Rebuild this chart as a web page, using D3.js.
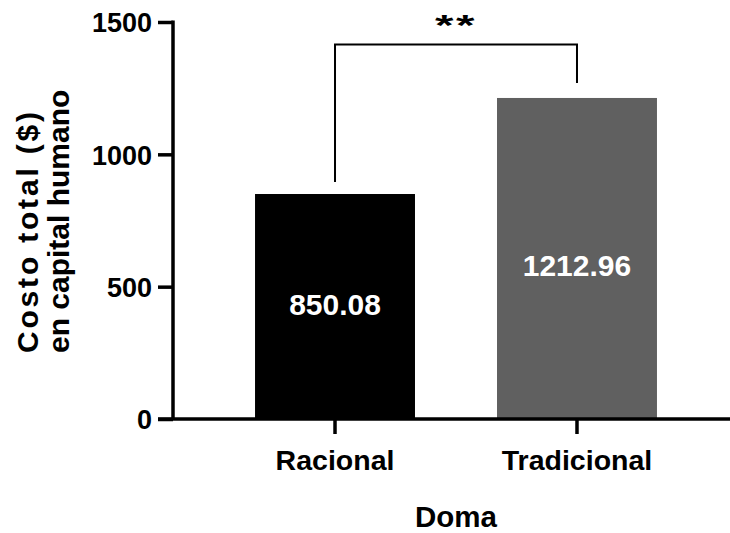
<!DOCTYPE html>
<html>
<head>
<meta charset="utf-8">
<script src="https://cdn.jsdelivr.net/npm/d3@7"></script>
<style>
  html, body { margin: 0; padding: 0; background: #fff; }
  svg { display: block; font-family: "Liberation Sans", Arial, sans-serif; font-weight: bold; }
</style>
</head>
<body>
<svg id="chart" width="730" height="533"></svg>
<script>
// Human-capital cost by taming method
const categories = ["Racional", "Tradicional"];
const values = [850.08, 1212.96];
const barColors = ["#000000", "#606060"];
const valueLabels = ["850.08", "1212.96"];
const yTicks = [0, 500, 1000, 1500];
const yTitleLines = ["Costo total ($)", "en capital humano"];
const xTitle = "Doma";
const significance = "**";
const bracketTop = 1415; // bracket height in data units

const W = 730, H = 533;
const axisX = 173;
const labelFrac = [0.51, 0.48]; // where each value label sits within its bar

const svg = d3.select("#chart");

const y = d3.scaleLinear().domain([0, 1500]).range([419, 22]);
const x = d3.scaleBand()
  .domain(categories)
  .range([axisX, 739])
  .paddingInner(0.339)
  .paddingOuter(0.339);

// bars
svg.append("g").selectAll("rect")
  .data(categories)
  .join("rect")
  .attr("x", d => x(d))
  .attr("y", (d, i) => y(values[i]))
  .attr("width", x.bandwidth())
  .attr("height", (d, i) => y(0) - y(values[i]))
  .attr("fill", (d, i) => barColors[i]);

// value labels inside bars
svg.append("g").selectAll("text")
  .data(categories)
  .join("text")
  .attr("x", d => x(d) + x.bandwidth() / 2)
  .attr("y", (d, i) => y(values[i] * labelFrac[i]) + 11)
  .attr("text-anchor", "middle")
  .attr("fill", "#fff")
  .attr("font-size", 30)
  .text((d, i) => valueLabels[i]);

// y axis
const yAxis = svg.append("g")
  .attr("transform", `translate(${axisX},0)`)
  .call(d3.axisLeft(y).tickValues(yTicks).tickSize(15).tickSizeOuter(0).tickPadding(6).tickFormat(d3.format("d")));
yAxis.select(".domain").attr("stroke-width", 3.5).attr("d", `M0,${y(1500) - 1.5}V${y(0)}`);
yAxis.selectAll(".tick line").attr("stroke-width", 3.5);
yAxis.selectAll(".tick text")
  .attr("font-size", 27).attr("font-family", "Liberation Sans, Arial, sans-serif")
  .attr("font-weight", "bold").attr("fill", "#000").attr("dy", "0.36em");

// x axis (baseline runs to the right edge)
const xAxis = svg.append("g")
  .attr("transform", `translate(0,${y(0)})`)
  .call(d3.axisBottom(x).tickSize(15).tickSizeOuter(0).tickPadding(16));
xAxis.select(".domain").attr("stroke-width", 3.5).attr("d", `M${axisX - 15},0H${W}`);
xAxis.selectAll(".tick line").attr("stroke-width", 3.5);
xAxis.selectAll(".tick text")
  .attr("font-size", 28.5).attr("font-family", "Liberation Sans, Arial, sans-serif")
  .attr("font-weight", "bold").attr("fill", "#000");

// axis titles
svg.append("text")
  .attr("x", (x("Racional") + x("Tradicional") + x.bandwidth()) / 2)
  .attr("y", 527)
  .attr("text-anchor", "middle")
  .attr("font-size", 29.5)
  .text(xTitle);

const yTitle = svg.append("text")
  .attr("transform", "rotate(-90)")
  .attr("text-anchor", "start")
  .attr("font-size", 30);
yTitle.selectAll("tspan")
  .data(yTitleLines)
  .join("tspan")
  .attr("x", -353)
  .attr("y", (d, i) => 38 + i * 31)
  .attr("textLength", (d, i) => i === 0 ? 241 : null)
  .attr("lengthAdjust", "spacing")
  .text(d => d);

// significance bracket
const cx0 = x("Racional") + x.bandwidth() / 2;
const cx1 = x("Tradicional") + x.bandwidth() / 2;
const bracket = d3.path();
bracket.moveTo(cx0, y(values[0]) - 12);
bracket.lineTo(cx0, y(bracketTop));
bracket.lineTo(cx1, y(bracketTop));
bracket.lineTo(cx1, y(values[1]) - 15);
svg.append("path")
  .attr("d", bracket.toString())
  .attr("fill", "none")
  .attr("stroke", "#000")
  .attr("stroke-width", 2);

svg.append("g")
  .attr("transform", `translate(${(cx0 + cx1) / 2},35) scale(1.25,0.8)`)
  .append("text")
  .attr("text-anchor", "middle")
  .attr("font-size", 38)
  .attr("letter-spacing", 2)
  .text(significance);
</script>
</body>
</html>
